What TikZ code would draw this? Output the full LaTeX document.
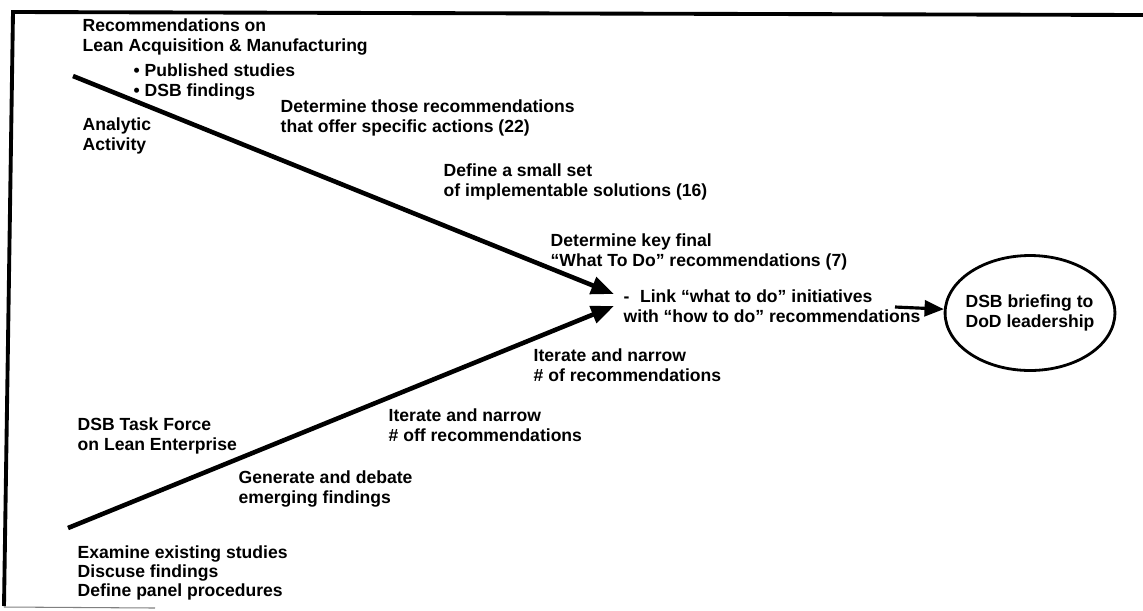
\documentclass[tikz,border=0pt]{standalone}
\usepackage{fontspec}
\setmainfont{Liberation Sans}
\usetikzlibrary{positioning,arrows.meta,shapes.geometric}

\begin{document}
\begin{tikzpicture}[x=0.02cm, y=-0.02cm, thick,
		main/.style = {anchor=north west, inner sep=0pt, align=left, font=\fontsize{10}{11.3}\selectfont\bfseries},
		fish/.style = {line width=2.6pt, -{Triangle[length=13pt, width=10pt]}},
		frame/.style = {line width=2.2pt}]
		\useasboundingbox (0,0) rectangle (1143,610);
		\draw[frame] (1143,15) -- (13,12) -- (4,606);
		\draw[line width=0.6pt, gray] (4,607) -- (155,608);
		\node[main] (1) at (82,18) {Recommendations on\\Lean Acquisition \& Manufacturing};
		\node[main] (2) at (133,63) {• Published studies\\• DSB findings};
		\node[main] (3) at (82,117) {Analytic\\Activity};
		\node[main] (4) at (280,99) {Determine those recommendations\\that offer specific actions (22)};
		\node[main] (5) at (443,163) {Define a small set\\of implementable solutions (16)};
		\node[main] (6) at (550,233) {Determine key final\\“What To Do” recommendations (7)};
		\node[main] (7) at (623,289) {-\hspace{6pt}Link “what to do” initiatives\\with “how to do” recommendations};
		\node[main] (8) at (533,348) {Iterate and narrow\\\# of recommendations};
		\node[main] (9) at (77,417) {DSB Task Force\\on Lean Enterprise};
		\node[main] (10) at (388,408) {Iterate and narrow\\\# off recommendations};
		\node[main] (11) at (238,470) {Generate and debate\\emerging findings};
		\node[main, font=\fontsize{10}{10.8}\selectfont\bfseries] (12) at (77,545) {Examine existing studies\\Discuse findings\\Define panel procedures};
		\node[main, anchor=center, draw, ellipse, line width=1.6pt, inner xsep=-2.5pt, inner ysep=0pt, minimum height=2.3cm] (13) at (1030,313) {DSB briefing to\\DoD leadership};
		\coordinate (a) at (73,76);
		\coordinate (b) at (68,528);
		\coordinate (c) at (614,294);
		\coordinate (d) at (614,306);
		\coordinate (e) at (895,307);
		\path[fish] (a) edge (c)
			(b) edge (d);
		\path[line width=1.8pt, -{Triangle[length=11pt, width=9pt]}] (e) edge (13);
	\end{tikzpicture}
\end{document}
